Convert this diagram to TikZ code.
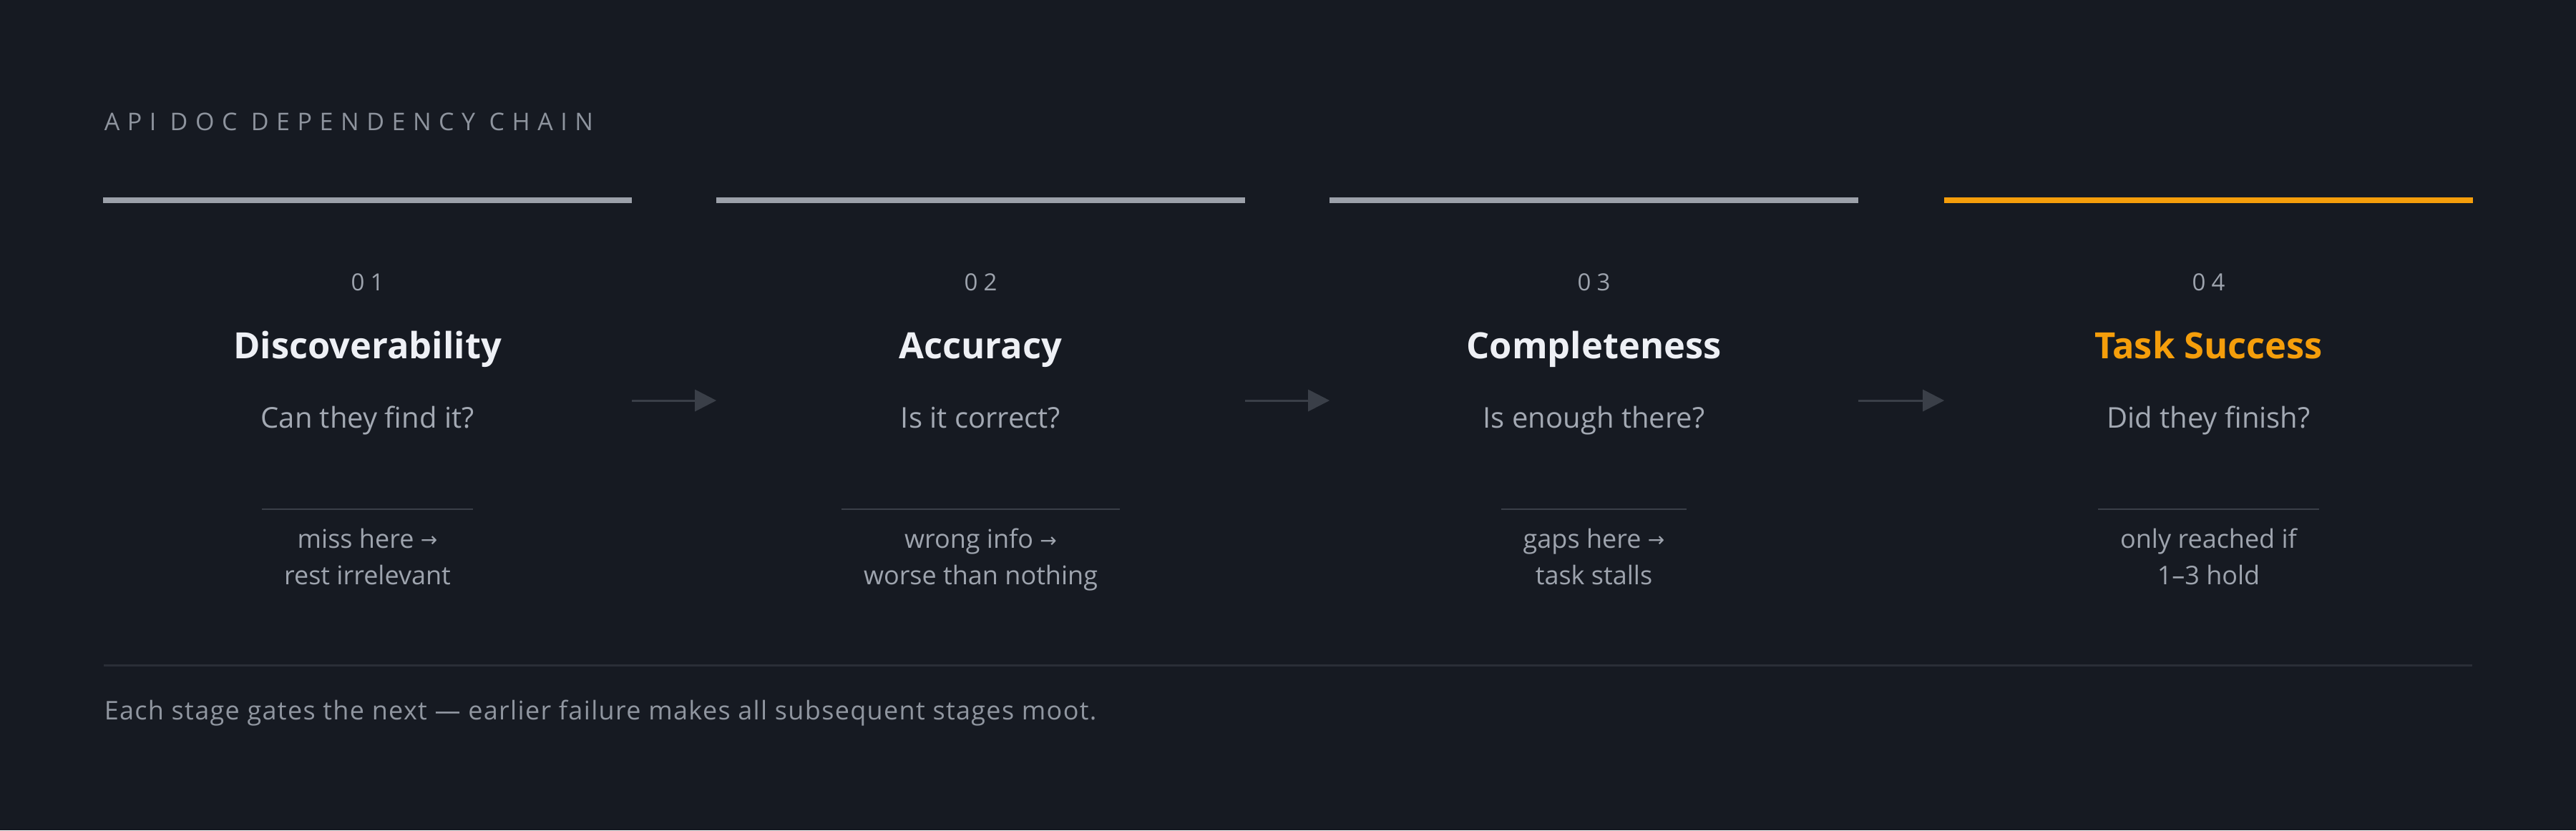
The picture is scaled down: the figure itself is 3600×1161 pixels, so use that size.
\documentclass[tikz,border=0pt]{standalone}
\usepackage{fontspec}
\setmainfont{Open Sans}
\newfontfamily\hdrfont[LetterSpace=31]{Open Sans}
\newfontfamily\numfont[LetterSpace=25]{Open Sans}
\newfontfamily\footfont[LetterSpace=3.7]{Open Sans}
\newfontfamily\symfont{DejaVu Sans}
\usetikzlibrary{arrows.meta}
\definecolor{bg}{HTML}{161A22}
\definecolor{hdrgray}{HTML}{8E949E}
\definecolor{bargray}{HTML}{9CA1AA}
\definecolor{accent}{HTML}{F59E0B}
\definecolor{numgray}{HTML}{9DA3AD}
\definecolor{ttlwhite}{HTML}{EEF0F5}
\definecolor{subgray}{HTML}{A3A9B3}
\definecolor{notegray}{HTML}{9EA4AE}
\definecolor{darkline}{HTML}{3A3F48}
\definecolor{rulegray}{HTML}{2A2E37}
\definecolor{footgray}{HTML}{9096A0}
\newcommand{\rarr}{{\symfont\fontsize{7}{8}\selectfont\raisebox{0.3pt}{→}}}
\begin{document}
\begin{tikzpicture}[x=0.25pt,y=-0.25pt,
  hdr/.style={anchor=base west,inner sep=0pt,text=hdrgray,font=\hdrfont\fontsize{8.5}{10}\selectfont},
  col/.style={inner sep=0pt,minimum height=0pt,minimum width=184.25pt},
  bar/.style={line width=2pt},
  num/.style={anchor=base,inner sep=0pt,text=numgray,font=\numfont\fontsize{8.25}{10}\selectfont},
  ttl/.style={anchor=base,inner sep=0pt,font=\bfseries\fontsize{12.65}{15}\selectfont},
  sub/.style={anchor=base,inner sep=0pt,text=subgray,font=\fontsize{10}{12}\selectfont},
  note/.style={anchor=north,inner xsep=7.5pt,inner ysep=0pt,align=center,text=notegray,font=\fontsize{9}{12.75}\selectfont},
  arr/.style={draw=darkline,line width=0.75pt,-{Triangle[length=7.5pt,width=7.5pt]}},
  divline/.style={draw=darkline,line width=0.6pt},
  rule/.style={draw=rulegray,line width=0.75pt},
  foot/.style={anchor=base west,inner sep=0pt,text=footgray,font=\footfont\fontsize{9}{11}\selectfont}]
\fill[bg] (0,0) rectangle (3600,1161);
\useasboundingbox (0,0) rectangle (3600,1161);
\node[hdr] (hdr) at (145,182) {API DOC DEPENDENCY CHAIN};
\foreach \i/\cx/\bc/\tc/\num/\ttl/\sub/\note in {
  1/513.5/bargray/ttlwhite/01/Discoverability/Can they find it?/{miss here \rarr\\rest irrelevant},
  2/1370.5/bargray/ttlwhite/02/Accuracy/Is it correct?/{wrong info \rarr\\worse than nothing},
  3/2227.5/bargray/ttlwhite/03/Completeness/Is enough there?/{gaps here \rarr\\task stalls},
  4/3086.5/accent/accent/04/Task Success/Did they finish?/{only reached if\\1–3 hold}}{
  \node[col] (col\i) at (\cx,560) {};
  \draw[bar,draw=\bc] (col\i.west |- 0,280) -- (col\i.east |- 0,280);
  \node[num] (num\i) at (\cx,406) {\num};
  \node[ttl,text=\tc] (ttl\i) at (\cx,501) {\ttl};
  \node[sub] (sub\i) at (\cx,598) {\sub};
  \node[note] (note\i) at (\cx,738) {\note};
  \draw[divline] ([yshift=6.5pt]note\i.north west) -- ([yshift=6.5pt]note\i.north east);
}
\draw[arr] (col1.east) -- (col2.west);
\draw[arr] (col2.east) -- (col3.west);
\draw[arr] (col3.east) -- (col4.west);
\coordinate (rl) at (145,930);
\coordinate (rr) at (3455,930);
\draw[rule] (rl) -- (rr);
\node[foot] (foot) at (145,1006) {Each stage gates the next — earlier failure makes all subsequent stages moot.};
\end{tikzpicture}
\end{document}
